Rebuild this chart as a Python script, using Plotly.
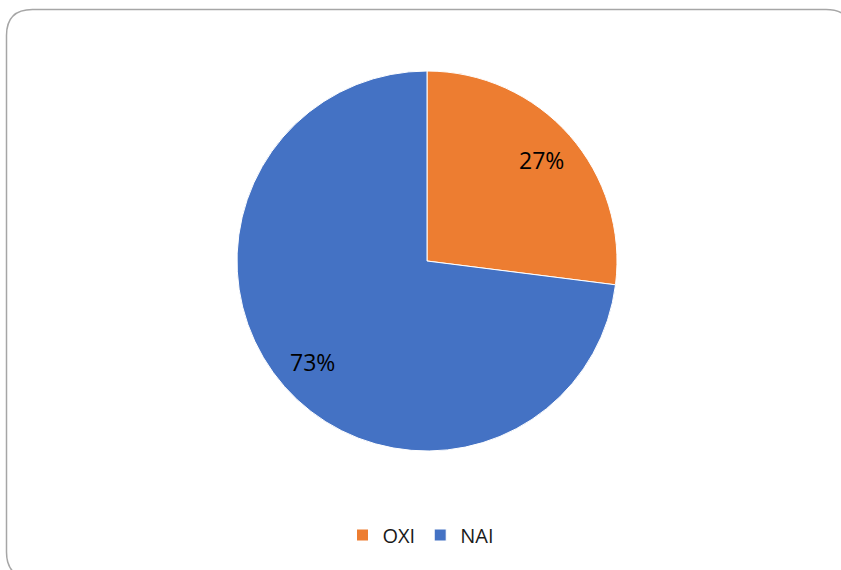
import math
import plotly.graph_objects as go

# Dados do gráfico
categorias = ["OXI", "NAI"]
valores = [27, 73]
cores = ["#ED7D31", "#4472C4"]

W, H = 841, 570
# Posição do gráfico de pizza (pixels)
cx, cy, raio = 427, 261, 190

fig = go.Figure(
    go.Pie(
        labels=categorias,
        values=valores,
        marker=dict(colors=cores, line=dict(color="white", width=1)),
        sort=False,
        direction="clockwise",
        rotation=0,
        textinfo="none",
        hoverinfo="label+percent",
        domain=dict(
            x=[(cx - raio) / W, (cx + raio) / W],
            y=[1 - (cy + raio) / H, 1 - (cy - raio) / H],
        ),
    )
)

# Rótulos de percentagem, colocados a partir dos valores
total = sum(valores)
acum = 0
for v in valores:
    meio = (acum + v / 2) / total
    acum += v
    ang = 2 * math.pi * meio
    px_ = cx + 0.8 * raio * math.sin(ang)
    py_ = cy - 0.8 * raio * math.cos(ang)
    fig.add_annotation(
        x=px_ / W,
        y=1 - py_ / H,
        xref="paper",
        yref="paper",
        xanchor="center",
        yanchor="middle",
        text=f"{round(100 * v / total)}%",
        showarrow=False,
        font=dict(size=23, color="#000000", family="Open Sans"),
    )

# Moldura arredondada (cortada à direita e em baixo, como no original)
x0, y0, x1, y1, r = 6.5 / W, 1 - 9.5 / H, 852 / W, 1 - 578 / H, 26
rx, ry = r / W, r / H
caminho = (
    f"M {x0 + rx},{y0} L {x1 - rx},{y0} Q {x1},{y0} {x1},{y0 - ry} "
    f"L {x1},{y1 + ry} Q {x1},{y1} {x1 - rx},{y1} "
    f"L {x0 + rx},{y1} Q {x0},{y1} {x0},{y1 + ry} "
    f"L {x0},{y0 - ry} Q {x0},{y0} {x0 + rx},{y0} Z"
)
fig.add_shape(
    type="path",
    path=caminho,
    xref="paper",
    yref="paper",
    line=dict(color="#a6a6a6", width=1.5),
)

fig.update_layout(
    width=W,
    height=H,
    margin=dict(l=0, r=0, t=0, b=0),
    paper_bgcolor="white",
    plot_bgcolor="white",
    showlegend=True,
    legend=dict(
        orientation="h",
        x=0.5,
        xanchor="center",
        y=1 - 535 / H,
        yanchor="middle",
        font=dict(size=20, color="#1a1a1a", family="Open Sans"),
        itemwidth=30,
        traceorder="normal",
    ),
)

# Sem margem na página, para o gráfico ficar em (0, 0)
fig.write_html(
    "out.html",
    config={"displayModeBar": False},
    post_script="document.body.style.margin='0px';",
)
